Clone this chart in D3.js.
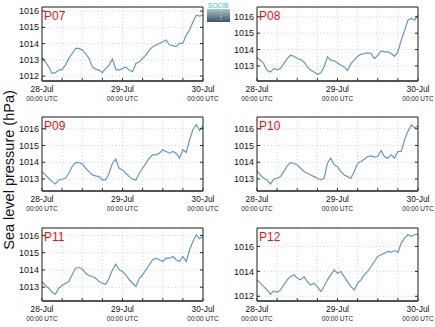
<!DOCTYPE html>
<html><head><meta charset="utf-8">
<script src="https://cdn.jsdelivr.net/npm/d3@7"></script>
<style>body{margin:0;background:#fff}svg{display:block;font-family:"Liberation Sans",Arial,sans-serif}</style>
</head><body><svg id="c" width="435" height="327"></svg>
<script>
const stations = ["P07","P08","P09","P10","P11","P12"];
const startDate = Date.UTC(2013,6,28,0);
const endDate = Date.UTC(2013,6,30,0);
const p07 = [1013.15,1012.88,1012.57,1012.16,1012.21,1012.37,1012.41,1012.68,1013.09,1013.39,1013.70,1013.70,1013.60,1013.39,1013.09,1012.57,1012.43,1012.37,1012.21,1012.47,1012.68,1013.05,1012.41,1012.37,1012.47,1012.57,1012.37,1012.27,1012.78,1012.88,1013.09,1013.29,1013.60,1013.81,1013.91,1014.01,1014.11,1014.22,1013.91,1013.87,1013.81,1014.01,1014.01,1014.52,1014.83,1015.34,1015.75,1015.69,1015.75];
const p08 = [1013.51,1013.35,1013.14,1012.73,1012.63,1012.84,1012.78,1012.84,1013.14,1013.45,1013.65,1013.59,1013.45,1013.39,1013.24,1012.94,1012.73,1012.63,1012.49,1012.57,1012.94,1013.55,1013.35,1013.31,1013.18,1013.04,1012.94,1012.73,1013.14,1013.35,1013.59,1013.71,1013.76,1013.80,1013.76,1013.45,1013.65,1013.92,1013.86,1013.86,1013.76,1013.59,1013.86,1014.57,1015.18,1015.80,1015.90,1015.80,1016.10];
const p09 = [1013.44,1013.24,1013.04,1012.84,1012.70,1012.94,1012.98,1013.04,1013.34,1013.74,1013.98,1013.98,1013.90,1013.64,1013.44,1013.24,1013.18,1013.14,1012.94,1012.94,1013.34,1013.94,1014.18,1013.64,1013.54,1013.34,1013.14,1012.98,1012.94,1013.34,1013.64,1013.94,1014.24,1014.44,1014.44,1014.54,1014.74,1014.64,1014.54,1014.64,1014.54,1014.24,1014.74,1014.58,1015.34,1015.94,1016.24,1015.90,1016.18];
const p10 = [1013.48,1013.24,1013.04,1012.94,1012.70,1012.98,1013.04,1013.14,1013.44,1013.78,1013.98,1013.94,1013.84,1013.64,1013.44,1013.34,1013.24,1013.14,1013.04,1012.94,1013.04,1013.94,1014.24,1013.84,1013.74,1013.44,1013.24,1013.14,1013.04,1013.44,1013.94,1014.04,1014.18,1014.34,1014.38,1014.30,1014.34,1014.70,1014.34,1014.24,1014.44,1014.24,1014.64,1014.64,1015.34,1015.84,1016.24,1016.04,1016.18];
const p11 = [1013.33,1013.10,1012.94,1012.71,1012.59,1012.94,1013.10,1013.23,1013.33,1013.72,1014.10,1014.14,1014.06,1013.81,1013.68,1013.62,1013.52,1013.33,1013.23,1013.17,1013.52,1014.01,1014.34,1014.01,1013.91,1013.72,1013.43,1013.23,1013.04,1013.52,1013.72,1014.01,1014.30,1014.59,1014.68,1014.59,1014.49,1014.68,1014.68,1014.78,1014.59,1014.49,1014.78,1014.49,1015.17,1015.65,1016.04,1015.81,1015.94];
const p12 = [1013.32,1013.05,1012.78,1012.51,1012.16,1012.43,1012.32,1012.51,1012.91,1013.32,1013.58,1013.72,1013.45,1013.32,1013.58,1013.18,1012.91,1013.05,1012.78,1012.38,1012.78,1013.32,1013.72,1014.12,1013.85,1013.99,1013.58,1013.18,1012.78,1012.51,1013.05,1013.32,1013.72,1013.99,1014.39,1014.79,1015.19,1015.33,1015.46,1015.60,1015.54,1015.65,1015.54,1016.27,1016.67,1016.94,1016.81,1016.94,1016.99];
const seriesValues = [p07,p08,p09,p10,p11,p12];
const yDomains = [[1011.7,1016.25],[1012.08,1016.6],[1012.28,1016.7],[1012.28,1016.7],[1012.2,1016.43],[1011.62,1017.48]];
const yTicks = [[1012,1013,1014,1015,1016],[1013,1014,1015,1016],[1013,1014,1015,1016],[1013,1014,1015,1016],[1013,1014,1015,1016],[1012,1014,1016]];
const dayLabels = ["28-Jul","29-Jul","30-Jul"];
const timeLabel = "00:00 UTC";
const yTitle = "Sea level pressure (hPa)";

const svg = d3.select("#c");
const colX = [42, 257], rowY = [7, 117, 228], rowH = [74, 74, 73], W = 161;
const times = p07.map((_, i) => new Date(startDate + i*3600e3));

stations.forEach((name, i) => {
  const c = i % 2, r = Math.floor(i/2);
  const x0 = colX[c], y0 = rowY[r], h = rowH[r];
  const x = d3.scaleUtc().domain([new Date(startDate), new Date(endDate)]).range([x0, x0+W]);
  const y = d3.scaleLinear().domain(yDomains[i]).range([y0+h, y0]);
  const g = svg.append("g");
  const sixH = x.ticks(d3.utcHour.every(6));
  const dayT = x.ticks(d3.utcDay.every(1));
  // grid
  g.selectAll(".vg").data(sixH.filter(t => t > x.domain()[0] && t < x.domain()[1])).join("line")
    .attr("x1", d => x(d)).attr("x2", d => x(d)).attr("y1", y0).attr("y2", y0+h)
    .attr("stroke", "#c4c4c4").attr("stroke-width", 0.8).attr("stroke-dasharray", "1,2.5");
  g.selectAll(".hg").data(yTicks[i]).join("line")
    .attr("x1", x0).attr("x2", x0+W).attr("y1", d => y(d)).attr("y2", d => y(d))
    .attr("stroke", "#c4c4c4").attr("stroke-width", 0.8).attr("stroke-dasharray", "1,2.5");
  // line
  g.append("path").datum(seriesValues[i])
    .attr("d", d3.line().x((d, k) => x(times[k])).y(d => y(d)).curve(d3.curveLinear))
    .attr("fill", "none").attr("stroke", "#6496c6").attr("stroke-width", 1.2);
  // frame
  g.append("path").attr("d", `M${x0},${y0+h}V${y0}H${x0+W}V${y0+h}`)
    .attr("fill", "none").attr("stroke", "#1a1a1a").attr("stroke-width", 1);
  g.append("line").attr("x1", x0).attr("x2", x0+W).attr("y1", y0+h).attr("y2", y0+h)
    .attr("stroke", "#555").attr("stroke-width", 2.2);
  // y ticks inward both sides
  yTicks[i].forEach(v => {
    g.append("line").attr("x1", x0).attr("x2", x0+3).attr("y1", y(v)).attr("y2", y(v)).attr("stroke", "#222");
    g.append("line").attr("x1", x0+W-3).attr("x2", x0+W).attr("y1", y(v)).attr("y2", y(v)).attr("stroke", "#222");
  });
  g.selectAll(".yl").data(yTicks[i]).join("text")
    .attr("x", x0-3).attr("y", d => y(d)).attr("dy", "0.35em")
    .attr("text-anchor", "end").attr("font-size", 9).attr("fill", "#111").text(d => d);
  // x ticks inward
  g.selectAll(".xt").data(sixH).join("line")
    .attr("x1", d => x(d)).attr("x2", d => x(d)).attr("y1", y0+h).attr("y2", y0+h-3)
    .attr("stroke", "#333");
  // day labels
  g.selectAll(".dl").data(dayT).join("text")
    .attr("x", d => x(d)).attr("y", y0+h+11).attr("text-anchor", "middle")
    .attr("font-size", 8.4).attr("fill", "#111").text((d, k) => dayLabels[k]);
  g.selectAll(".tl").data(dayT).join("text")
    .attr("x", d => x(d)).attr("y", y0+h+20).attr("text-anchor", "middle")
    .attr("font-size", 6.5).attr("fill", "#222").text(timeLabel);
  // station label
  g.append("text").attr("x", x0+2).attr("y", y0+13).attr("font-size", 12)
    .attr("fill", "#ee1111").text(name);
});

// y title
svg.append("text").attr("transform", "translate(14,170) rotate(-90)")
  .attr("text-anchor", "middle").attr("font-size", 14.5).attr("fill", "#111").text(yTitle);

// logo
const defs = svg.append("defs");
const gr = defs.append("linearGradient").attr("id", "lg").attr("x1", 0).attr("x2", 0).attr("y1", 0).attr("y2", 1);
gr.append("stop").attr("offset", 0).attr("stop-color", "#a9c3cc");
gr.append("stop").attr("offset", 1).attr("stop-color", "#3d5566");
svg.append("text").attr("x", 218).attr("y", 8).attr("text-anchor", "middle")
  .attr("font-size", 7).attr("fill", "#3cc0d8").attr("letter-spacing", -0.3).text("SOCIB");
svg.append("rect").attr("x", 207).attr("y", 9).attr("width", 23).attr("height", 13).attr("fill", "url(#lg)");
svg.append("line").attr("x1", 221).attr("x2", 221).attr("y1", 10).attr("y2", 21)
  .attr("stroke", "#fff").attr("stroke-width", 0.8).attr("stroke-dasharray", "1,2");
</script></body></html>
